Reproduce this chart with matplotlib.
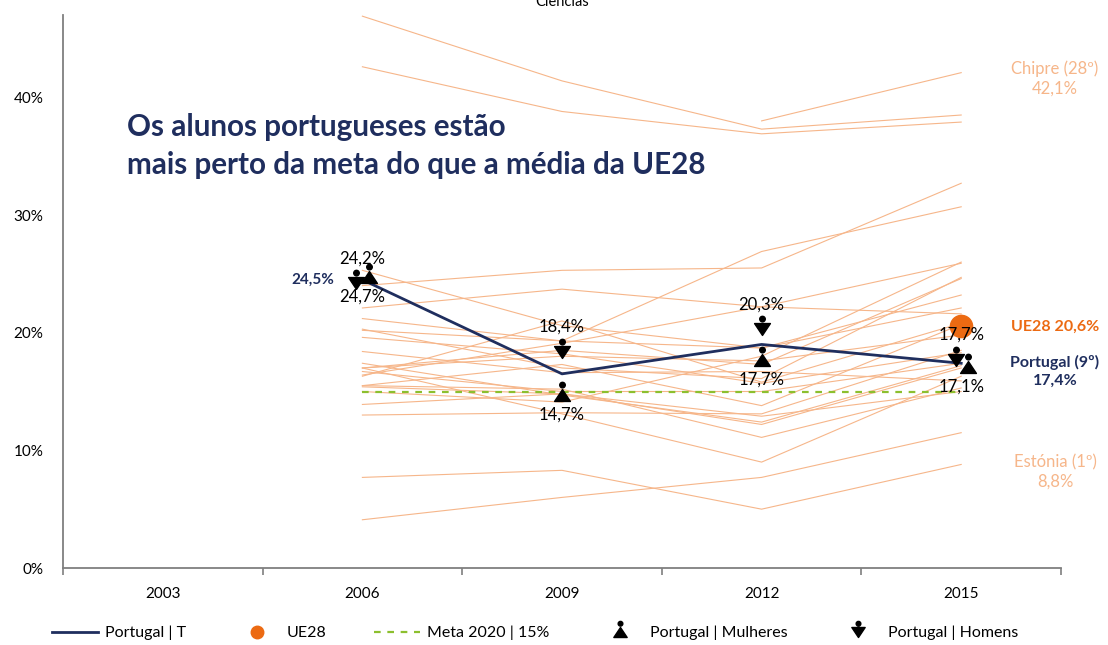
import numpy as np
import matplotlib
matplotlib.use("Agg")
import matplotlib.pyplot as plt
from matplotlib.path import Path
from matplotlib.lines import Line2D
from matplotlib.transforms import ScaledTranslation

plt.rcParams['font.family'] = ['Lato', 'DejaVu Sans']

#Data: % of low achievers in science (PISA)
years = ['2003', '2006', '2009', '2012', '2015']
portugal_t = [np.nan, 24.5, 16.5, 19.0, 17.4]
portugal_mulheres = [np.nan, 24.7, 14.7, 17.7, 17.1]
portugal_homens = [np.nan, 24.2, 18.4, 20.3, 17.7]
ue28 = [np.nan, np.nan, np.nan, np.nan, 20.6]
meta = [np.nan, 15, 15, 15, 15]

countries = ['Áustria', 'Bélgica', 'Bulgária', 'Croácia', 'Chipre', 'Rep. Checa',
             'Dinamarca', 'Estónia', 'Finlândia', 'França', 'Alemanha', 'Grécia',
             'Hungria', 'Irlanda', 'Itália', 'Letónia', 'Lituânia', 'Luxemburgo',
             'Países Baixos', 'Polónia', 'Roménia', 'Eslováquia', 'Eslovénia',
             'Espanha', 'Suécia', 'Reino Unido']
low_2006 = [16.3, 17.0, 42.6, 17.0, np.nan, 15.5, 18.4, 7.7, 4.1, 21.2, 15.4, 24.0, 15.0,
            15.5, 25.3, 17.4, 20.3, 22.1, 13.0, 17.0, 46.9, 20.2, 13.9, 19.6, 16.4, 16.7]
low_2009 = [21.0, 18.0, 38.8, 18.5, np.nan, 17.3, 16.6, 8.3, 6.0, 19.3, 14.8, 25.3, 14.1,
            15.2, 20.6, 14.7, 17.0, 23.7, 13.2, 13.1, 41.4, 19.3, 14.8, 18.2, 19.1, 15.0]
low_2012 = [15.8, 17.6, 36.9, 17.3, 38.0, 13.8, 16.7, 5.0, 7.7, 18.7, 12.2, 25.5, 18.0,
            11.1, 18.7, 12.4, 16.1, 22.2, 13.1, 9.0, 37.3, 26.9, 12.9, 15.7, 22.2, 15.0]
low_2015 = [20.8, 19.8, 37.9, 24.6, 42.1, 20.7, 15.9, 8.8, 11.5, 22.1, 17.0, 32.7, 26.0,
            15.3, 23.2, 17.2, 24.7, 25.9, 18.5, 16.3, 38.5, 30.7, 15.0, 18.3, 21.6, 17.4]

navy = '#1F2E5E'
orange = '#EC6A12'
light = '#F6B68A'
green = '#8CBF2E'


def pct(v):
    return f'{v:.1f}%'.replace('.', ',')


def person(up=True):
    #triangle with a dot above it
    s = 1 if up else -1
    tri = Path([(-8, -6 * s), (8, -6 * s), (0, 6 * s), (-8, -6 * s)],
               [Path.MOVETO, Path.LINETO, Path.LINETO, Path.CLOSEPOLY])
    dot = Path.circle((0, 10.5), 2.8)
    return Path.make_compound_path(tri, dot)


mulher = person(True)
homem = person(False)

fig = plt.figure(figsize=(11.08, 6.45), dpi=100)
ax = fig.add_axes([63 / 1108, 77 / 645, 998 / 1108, 553 / 645])

x = np.arange(len(years))

#Other EU countries
for i in range(len(countries)):
    vals = [np.nan, low_2006[i], low_2009[i], low_2012[i], low_2015[i]]
    ax.plot(x, vals, color=light, lw=0.8, zorder=1)

ax.plot(x, meta, color=green, lw=1.6, ls=(0, (3, 3)), zorder=2)
ax.plot(x, portugal_t, color=navy, lw=2, zorder=3)
ax.plot(x, ue28, 'o', color=orange, ms=16, zorder=4)

#Gender markers, nudged sideways where they overlap
dodge_h = [0, -4.5, 0, 0, -4]
dodge_m = [0, 4.5, 0, 0, 5]
for i in x:
    for vals, mk, dodge, dy in [(portugal_homens, homem, dodge_h, 18),
                                (portugal_mulheres, mulher, dodge_m, -14)]:
        v = vals[i]
        if np.isnan(v):
            continue
        tr = ax.transData + ScaledTranslation(dodge[i] / 72, 0, fig.dpi_scale_trans)
        ax.plot(i, v, marker=mk, ms=19, color='black', ls='none', transform=tr, zorder=5)
        ax.annotate(pct(v), (i, v), xytext=(0, dy), textcoords='offset points',
                    ha='center', va='center', fontsize=12, color='black', zorder=6)

ax.annotate(pct(portugal_t[1]), (1, portugal_t[1]), xytext=(-20, 0),
            textcoords='offset points', ha='right', va='center',
            fontsize=11, fontweight='bold', color=navy)

#Right side labels
ic = countries.index('Chipre')
ie = countries.index('Estónia')
ax.text(4.47, low_2015[ic] - 0.5, f'Chipre (28º)\n{pct(low_2015[ic])}', ha='center',
        va='center', fontsize=12, color=light, linespacing=1.25)
ax.text(4.47, low_2015[ie] - 0.6, f'Estónia (1º)\n{pct(low_2015[ie])}', ha='center',
        va='center', fontsize=12, color=light, linespacing=1.25)
ax.text(4.47, ue28[4] - 0.1, f'UE28 {pct(ue28[4])}', ha='center', va='center',
        fontsize=11.5, fontweight='bold', color=orange)
ax.text(4.47, portugal_t[4] - 0.7, f'Portugal (9º)\n{pct(portugal_t[4])}', ha='center',
        va='center', fontsize=11.5, fontweight='bold', color=navy, linespacing=1.4)

#Headline
ax.text(0.064, 0.797, 'Os alunos portugueses estão', transform=ax.transAxes,
        fontsize=21.3, fontweight='bold', color=navy, va='center', ha='left')
ax.text(0.064, 0.728, 'mais perto da meta do que a média da UE28', transform=ax.transAxes,
        fontsize=21.3, fontweight='bold', color=navy, va='center', ha='left')

fig.text(562 / 1108, 1 - 2 / 645, 'Ciências', ha='center', va='center', fontsize=10.5)

#Axes styling
ax.set_xlim(-0.5, 4.5)
ax.set_ylim(0, 47)
ax.set_xticks(x)
ax.set_xticklabels(years, fontsize=11)
ax.set_xticks(np.arange(-0.5, 5, 1), minor=True)
ax.tick_params(axis='x', which='major', length=0, pad=14)
ax.tick_params(axis='x', which='minor', length=5, width=1.2, color='#7f7f7f', direction='out')
ax.set_yticks([0, 10, 20, 30, 40])
ax.set_yticklabels(['0%', '10%', '20%', '30%', '40%'], fontsize=11)
ax.tick_params(axis='y', length=0, pad=14)
for side in ['top', 'right']:
    ax.spines[side].set_visible(False)
for side in ['left', 'bottom']:
    ax.spines[side].set_color('#7f7f7f')
    ax.spines[side].set_linewidth(1.3)

#Legend
handles = [Line2D([], [], color=navy, lw=2),
           Line2D([], [], marker='o', color=orange, ls='none', ms=9),
           Line2D([], [], color=green, lw=1.6, ls=(0, (3, 3))),
           Line2D([], [], marker=mulher, color='black', ls='none', ms=16),
           Line2D([], [], marker=homem, color='black', ls='none', ms=16)]
labels = ['Portugal | T', 'UE28', 'Meta 2020 | 15%', 'Portugal | Mulheres', 'Portugal | Homens']
fig.legend(handles, labels, loc='center', bbox_to_anchor=(535 / 1108, 12 / 645),
           ncol=5, frameon=False, fontsize=11.5, handlelength=2.9,
           columnspacing=3.0, handletextpad=0.4)

fig.savefig('out.png', dpi=100)
